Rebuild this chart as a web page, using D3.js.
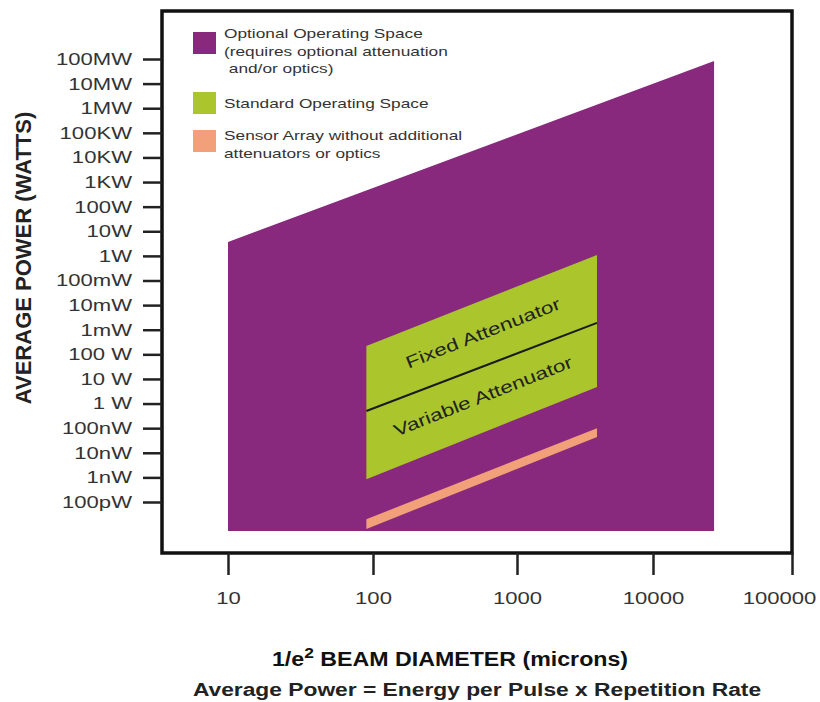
<!DOCTYPE html>
<html>
<head>
<meta charset="utf-8">
<script src="https://cdn.jsdelivr.net/npm/d3@7"></script>
<style>
  body { margin: 0; background: #fff; }
  svg { display: block; font-family: "Liberation Sans", Arial, sans-serif; }
</style>
</head>
<body>
<div id="chart"></div>
<script>
// Chart data
const xTickValues = [10, 100, 1000, 10000, 100000];
const xTickLabels = ["10", "100", "1000", "10000", "100000"];
const yTickValues = [1e8, 1e7, 1e6, 1e5, 1e4, 1e3, 1e2, 1e1, 1, 1e-1, 1e-2, 1e-3, 1e-4, 1e-5, 1e-6, 1e-7, 1e-8, 1e-9, 1e-10];
const yTickLabels = ["100MW", "10MW", "1MW", "100KW", "10KW", "1KW", "100W", "10W", "1W", "100mW", "10mW", "1mW",
                     "100 W", "10 W", "1 W", "100nW", "10nW", "1nW", "100pW"];

// regions: beam diameter (microns) / average power (watts)
const optionalSpace = [[10, 6.6e-12], [10, 3.7], [27500, 8.3e7], [27500, 6.6e-12]];
const standardSpace = [[90, 8.5e-10], [90, 2.2e-4], [3875, 1.09], [3875, 4.7e-6]];
const attenuatorDivider = [[90, 5e-7], [3875, 1.9e-3]];
const sensorArray = [[90, 8e-12], [90, 2.0e-11], [3875, 1.0e-7], [3875, 4.4e-8]];
const regionLabels = [
    { text: "Fixed Attenuator", d: 580, p: 7.4e-4 },
    { text: "Variable Attenuator", d: 580, p: 2e-6 }
];

const legendLabels = [
    ["Optional Operating Space", "(requires optional attenuation", "\u00a0and/or optics)"],
    ["Standard Operating Space"],
    ["Sensor Array without additional", "attenuators or optics"]
];

const purple = "#88297d";
const green = "#aac62c";
const orange = "#f2a07a";
const legendColors = [purple, green, orange];

const width = 820;
const height = 702;
const frame = { left: 162, top: 11, bottom: 553 };

const svg = d3.select("#chart")
    .append("svg")
    .attr("width", width)
    .attr("height", height);

// scales (the printed decades are not evenly spaced on x)
const x = d3.scaleLog()
    .domain(xTickValues)
    .range([228, 373, 517, 653, 792]);

const y = d3.scaleLog()
    .domain([1e-10, 1e8])
    .range([502, 59]);

const line = d3.line()
    .x(d => x(d[0]))
    .y(d => y(d[1]));

// regions
svg.append("path")
    .attr("d", line(optionalSpace) + "Z")
    .attr("fill", purple);

svg.append("path")
    .attr("d", line(standardSpace) + "Z")
    .attr("fill", green);

svg.append("path")
    .attr("d", line(attenuatorDivider))
    .attr("stroke", "#1a1a1a")
    .attr("stroke-width", 2)
    .attr("fill", "none");

svg.append("path")
    .attr("d", line(sensorArray) + "Z")
    .attr("fill", orange);

// labels inside the green region, rotated along its edge
const edgeA = standardSpace[1], edgeB = standardSpace[2];
const angle = Math.atan2(y(edgeB[1]) - y(edgeA[1]), x(edgeB[0]) - x(edgeA[0])) * 180 / Math.PI;

svg.append("g")
    .selectAll("text")
    .data(regionLabels)
    .enter().append("text")
    .attr("transform", d => `translate(${x(d.d)},${y(d.p)}) rotate(${angle}) scale(1.33,1)`)
    .attr("text-anchor", "middle")
    .attr("dominant-baseline", "central")
    .attr("font-size", 17)
    .attr("fill", "#222")
    .text(d => d.text);

// frame
svg.append("rect")
    .attr("x", frame.left)
    .attr("y", frame.top)
    .attr("width", x.range()[4] - frame.left)
    .attr("height", frame.bottom - frame.top)
    .attr("fill", "none")
    .attr("stroke", "#111")
    .attr("stroke-width", 3.5);

// y axis
const yAxis = svg.append("g")
    .attr("transform", `translate(${frame.left},0)`)
    .call(d3.axisLeft(y)
        .tickValues(yTickValues)
        .tickFormat((d, i) => yTickLabels[i])
        .tickSize(19));

yAxis.select(".domain").remove();
yAxis.selectAll(".tick line").attr("stroke", "#222").attr("stroke-width", 2.5);
yAxis.selectAll(".tick text")
    .attr("x", 0)
    .attr("transform", "translate(-30,0) scale(1.3,1)")
    .attr("font-size", 17)
    .attr("font-family", "Liberation Sans, Arial, sans-serif")
    .attr("fill", "#333");

// x axis
const xAxis = svg.append("g")
    .attr("transform", `translate(0,${frame.bottom})`)
    .call(d3.axisBottom(x)
        .tickValues(xTickValues)
        .tickFormat((d, i) => xTickLabels[i])
        .tickSize(22));

xAxis.select(".domain").remove();
xAxis.selectAll(".tick line").attr("stroke", "#222").attr("stroke-width", 2.5);
xAxis.selectAll(".tick text")
    .attr("y", 0)
    .attr("transform", (d, i) => `translate(${i === xTickValues.length - 1 ? -13 : 0},39) scale(1.3,1)`)
    .attr("font-size", 17)
    .attr("font-family", "Liberation Sans, Arial, sans-serif")
    .attr("fill", "#333");

// axis titles
svg.append("text")
    .attr("transform", "translate(31,258) rotate(-90)")
    .attr("text-anchor", "middle")
    .attr("font-size", 22)
    .attr("font-weight", "bold")
    .attr("fill", "#222")
    .text("AVERAGE POWER (WATTS)");

const xTitle = svg.append("text")
    .attr("transform", "translate(450,666) scale(1.16,1)")
    .attr("text-anchor", "middle")
    .attr("font-size", 20)
    .attr("font-weight", "bold")
    .attr("fill", "#111");
xTitle.append("tspan").text("1/e");
xTitle.append("tspan").attr("font-size", 15).attr("dy", -8).text("2");
xTitle.append("tspan").attr("dy", 8).text(" BEAM DIAMETER (microns)");

svg.append("text")
    .attr("transform", "translate(477,696) scale(1.2,1)")
    .attr("text-anchor", "middle")
    .attr("font-size", 19)
    .attr("font-weight", "bold")
    .attr("fill", "#222")
    .text("Average Power = Energy per Pulse x Repetition Rate");

// legend
const legendTop = [32, 92, 130];
const legendTextTop = [38, 108, 140];

const legend = svg.append("g");

legend.selectAll("rect")
    .data(legendColors)
    .enter().append("rect")
    .attr("x", 193)
    .attr("y", (d, i) => legendTop[i])
    .attr("width", 23)
    .attr("height", 22)
    .attr("fill", d => d);

legendLabels.forEach((lines, i) => {
    legend.append("g")
        .selectAll("text")
        .data(lines)
        .enter().append("text")
        .attr("transform", (d, j) => `translate(224,${legendTextTop[i] + j * 17.5}) scale(1.33,1)`)
        .attr("font-size", 13)
        .attr("fill", "#333")
        .text(d => d);
});
</script>
</body>
</html>
